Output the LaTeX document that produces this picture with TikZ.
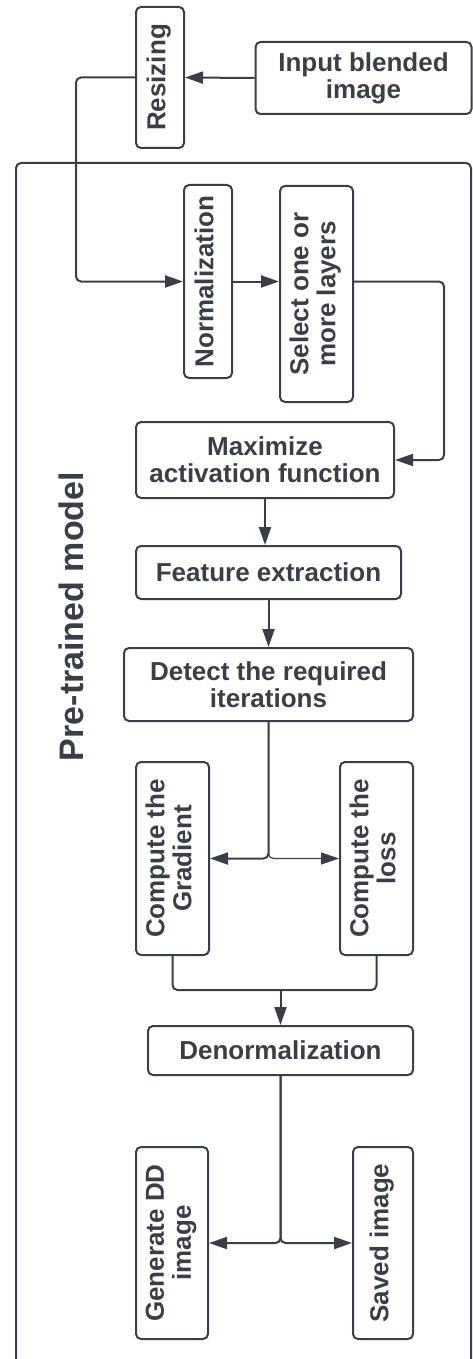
\documentclass[tikz,border=0pt]{standalone}
\usepackage{fontspec}
\setmainfont{Liberation Sans}
\usepackage{graphicx}
\usetikzlibrary{arrows.meta}
\definecolor{dk}{RGB}{58,63,71}
\newcommand\rt[1]{\rotatebox{90}{\begin{tabular}{@{}c@{}}#1\end{tabular}}}
\begin{document}
\begin{tikzpicture}[x=1pt,y=-1pt,
  box/.style={draw=dk, line width=2pt, rounded corners=5pt, inner sep=0pt, text=dk,
    font=\fontsize{26}{27}\selectfont\bfseries, align=center},
  con/.style={draw=dk, line width=2pt, rounded corners=5pt},
  arr/.style={con, -{Triangle[length=18pt,width=12pt]}}]
\useasboundingbox (0,0) rectangle (473,1359);
% frame
\draw[con] (16,1359) -- (16,163) -- (471,163) -- (471,1359);
\node[rotate=90, anchor=base, text=dk, font=\fontsize{34}{36}\selectfont\bfseries] (lab) at (83,616.5) {Pre-trained model};
% nodes
\node[box, minimum width=48, minimum height=141] (resize) at (160,77.5) {\rt{Resizing}};
\node[box, minimum width=216, minimum height=72] (input) at (363.5,78) {Input blended\\image};
\node[box, minimum width=48, minimum height=193] (norm) at (208,281.5) {\rt{Normalization}};
\node[box, minimum width=73, minimum height=216] (select) at (316.5,294) {\rt{Select one or\\more layers}};
\node[box, minimum width=258, minimum height=76] (maxim) at (265,460) {Maximize\\activation function};
\node[box, minimum width=265, minimum height=53] (feat) at (268.5,572.5) {Feature extraction};
\node[box, minimum width=289, minimum height=73] (detect) at (268.5,684.5) {Detect the required\\iterations};
\node[box, minimum width=73, minimum height=193] (grad) at (172.5,858.5) {\rt{Compute the\\Gradient}};
\node[box, minimum width=73, minimum height=193] (loss) at (376.5,858.5) {\rt{Compute the\\loss}};
\node[box, minimum width=265, minimum height=49] (denorm) at (280.5,1050.5) {Denormalization};
\node[box, minimum width=72, minimum height=192] (gen) at (172,1243) {\rt{Generate DD\\image}};
\node[box, minimum width=60, minimum height=192] (saved) at (383,1243) {\rt{Saved image}};
\coordinate (j1) at (280.5,990);
% connectors
\draw[arr] (input.west) -- (resize.east);
\draw[arr] (resize.west) -- ++(-59,0) |- (norm.west);
\draw[arr] (norm.east) -- (norm.east -| select.west);
\draw[arr] (norm.east -| select.east) -- ++(90,0) |- (maxim.east);
\draw[arr] (maxim.south) -- (maxim.south |- feat.north);
\draw[arr] (feat.south) -- (feat.south |- detect.north);
\draw[arr] (detect.south) |- (grad.east);
\draw[arr, line width=1.2pt] (detect.south) |- (loss.west);
\draw[con] (grad.south) |- (j1) -| (loss.south);
\draw[arr] (j1) -- (denorm.north);
\draw[arr] (denorm.south) |- (gen.east);
\draw[arr] (denorm.south) |- (saved.west);
\end{tikzpicture}
\end{document}
